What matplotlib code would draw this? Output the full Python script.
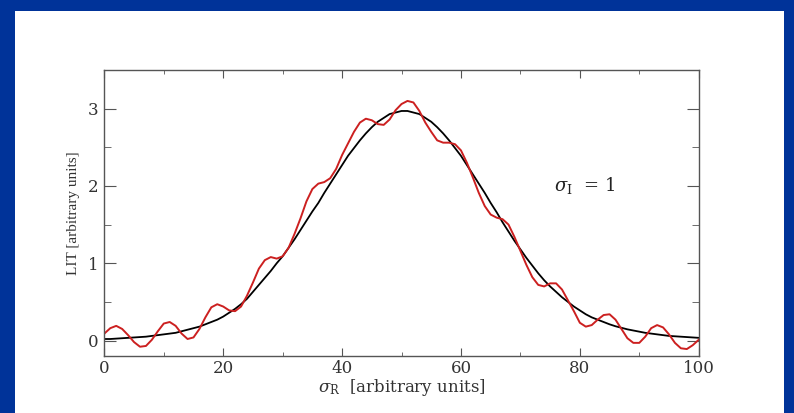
import matplotlib
matplotlib.use("Agg")
import matplotlib.pyplot as plt
from matplotlib.patches import Rectangle

plt.rcParams["font.family"] = "DejaVu Serif"
plt.rcParams["mathtext.fontset"] = "dejavuserif"

# smooth reference curve (black), one value per unit of sigma_R
x_smooth = list(range(0, 101))
lit_smooth = [0.02, 0.02, 0.025, 0.03, 0.035, 0.04, 0.045, 0.05, 0.06, 0.07,
              0.08, 0.09, 0.10, 0.12, 0.14, 0.16, 0.18, 0.21, 0.24, 0.27,
              0.31, 0.36, 0.41, 0.47, 0.54, 0.63, 0.72, 0.81, 0.90, 1.00,
              1.09, 1.20, 1.31, 1.43, 1.55, 1.67, 1.78, 1.91, 2.03, 2.15,
              2.27, 2.39, 2.49, 2.59, 2.68, 2.76, 2.83, 2.88, 2.93, 2.95,
              2.97, 2.97, 2.95, 2.93, 2.88, 2.83, 2.76, 2.68, 2.59, 2.49,
              2.39, 2.27, 2.15, 2.03, 1.91, 1.78, 1.66, 1.53, 1.41, 1.29,
              1.18, 1.07, 0.97, 0.87, 0.78, 0.70, 0.63, 0.56, 0.50, 0.44,
              0.39, 0.34, 0.30, 0.27, 0.24, 0.21, 0.185, 0.165, 0.145, 0.13,
              0.115, 0.10, 0.09, 0.08, 0.07, 0.06, 0.055, 0.05, 0.045, 0.04,
              0.035]

# oscillating curve (red), one value per unit of sigma_R
x_osc = list(range(0, 101))
lit_osc = [0.09, 0.16, 0.19, 0.15, 0.07, -0.02, -0.08, -0.07, 0.01, 0.12,
           0.22, 0.24, 0.19, 0.09, 0.02, 0.04, 0.15, 0.30, 0.43, 0.47,
           0.44, 0.39, 0.38, 0.44, 0.58, 0.75, 0.93, 1.04, 1.08, 1.06,
           1.09, 1.20, 1.38, 1.58, 1.80, 1.96, 2.03, 2.05, 2.10, 2.22,
           2.40, 2.55, 2.70, 2.82, 2.87, 2.85, 2.80, 2.79, 2.86, 2.98,
           3.06, 3.10, 3.08, 2.97, 2.82, 2.70, 2.59, 2.56, 2.56, 2.54,
           2.46, 2.30, 2.11, 1.91, 1.74, 1.63, 1.59, 1.57, 1.50, 1.34,
           1.16, 0.98, 0.82, 0.72, 0.70, 0.74, 0.74, 0.66, 0.52, 0.38,
           0.23, 0.18, 0.20, 0.27, 0.33, 0.34, 0.27, 0.15, 0.03, -0.03,
           -0.03, 0.05, 0.16, 0.20, 0.17, 0.08, -0.03, -0.10, -0.11, -0.06,
           0.01]

x_ticks = [0, 20, 40, 60, 80, 100]
y_ticks = [0, 1, 2, 3]

fig = plt.figure(figsize=(7.94, 4.13), dpi=100)
fig.patch.set_facecolor("#003399")
fig.patches.append(Rectangle((15 / 794, 0), 769 / 794, 402 / 413,
                             transform=fig.transFigure, facecolor="white",
                             edgecolor="none", zorder=-5))

ax = fig.add_axes([0.1314, 0.138, 0.7486, 0.6925])
ax.set_zorder(2)
ax.set_facecolor("white")
ax.plot(x_smooth, lit_smooth, color="black", lw=1.3)
ax.plot(x_osc, lit_osc, color="#cc2020", lw=1.4)

ax.set_xlim(0, 100)
ax.set_ylim(-0.2, 3.5)
ax.set_xticks(x_ticks)
ax.set_yticks(y_ticks)
ax.set_xticks([10, 30, 50, 70, 90], minor=True)
ax.set_yticks([0.5, 1.5, 2.5], minor=True)

for s in ax.spines.values():
    s.set_color("#555555")
    s.set_linewidth(1.0)
ax.tick_params(axis="both", which="both", direction="in", top=True, right=True,
               color="#555555", labelcolor="#333333", labelsize=12)
ax.tick_params(axis="x", which="major", length=5.5, pad=3)
ax.tick_params(axis="x", which="minor", length=3)
ax.tick_params(axis="y", which="major", length=8.5, pad=4)
ax.tick_params(axis="y", which="minor", length=5)

ax.set_xlabel(r"$\sigma_{\rm R}$  [arbitrary units]", fontsize=12,
              color="#333333", labelpad=0)
ax.set_ylabel("LIT [arbitrary units]", fontsize=11, color="#333333",
              family="Liberation Serif", labelpad=6)
ax.text(75.7, 2.0, r"$\sigma_{\rm I}$  = 1", fontsize=13, color="#222222",
        va="center", ha="left")

fig.savefig("out.png", dpi=100, facecolor=fig.get_facecolor())
